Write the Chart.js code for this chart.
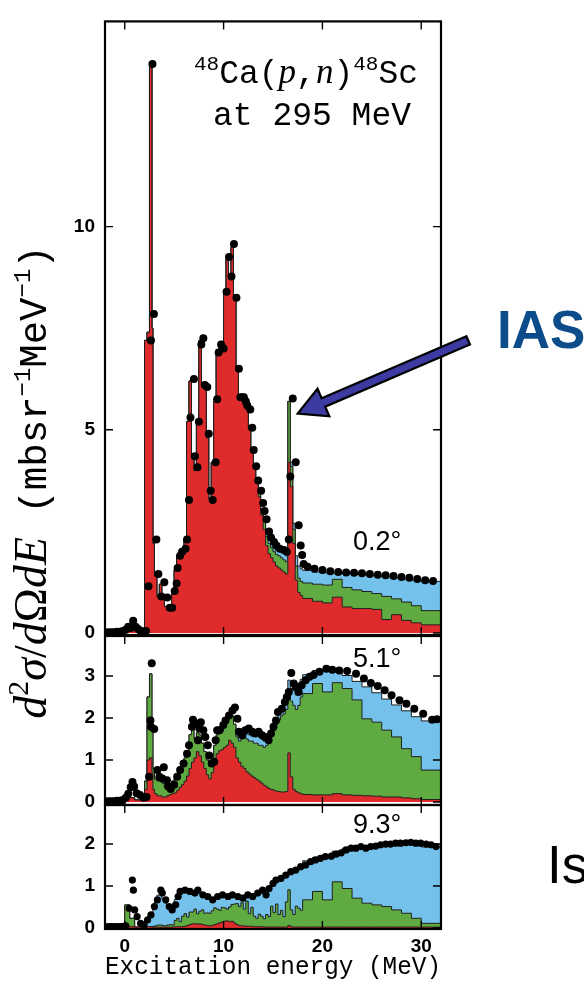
<!DOCTYPE html>
<html>
<head>
<meta charset="utf-8">
<script src="https://cdn.jsdelivr.net/npm/chart.js@4.4.1/dist/chart.umd.min.js"></script>
<style>
  html, body { margin: 0; padding: 0; background: #fff; }
  #wrap { position: relative; width: 584px; height: 993px; overflow: hidden; }
  #wrap canvas { position: absolute; left: 0; top: 0; }
</style>
</head>
<body>
<div id="wrap">
  <canvas id="p3" width="584" height="993"></canvas>
  <canvas id="p2" width="584" height="993"></canvas>
  <canvas id="p1" width="584" height="993"></canvas>
</div>
<script>
/* ── Data ─────────────────────────────────────────────── */

// left edges of the histogram bins (MeV), last entry closes the last bin
var binEdges = [
  -2, -1.5, -1, -0.5, 0, 0.5, 1, 1.5, 2, 2.25, 2.5, 2.75, 2.85,
  3, 3.25, 3.5, 3.75, 4, 4.25, 4.5, 4.75, 5, 5.25, 5.5, 5.75,
  6, 6.25, 6.5, 6.75, 7, 7.25, 7.5, 7.75, 8, 8.25, 8.5, 8.75,
  9, 9.25, 9.5, 9.75, 10, 10.25, 10.5, 10.75, 11, 11.25, 11.5, 11.75,
  12, 12.25, 12.5, 12.75, 13, 13.25, 13.5, 13.75, 14, 14.25, 14.5, 14.75,
  15, 15.25, 15.5, 15.75, 16, 16.25, 16.5, 16.75, 17, 17.25, 17.5, 17.75,
  18, 19, 20, 21, 22, 23, 24, 25, 26, 27, 28, 29, 30, 31,
  32
];

/* 0.2 deg */
var red1 = [
  0.02, 0.02, 0.02, 0.03, 0.05, 0.15, 0.12, 0.05, 0.1, 7.2, 7.4, 14.0, 7.5,
  2.2, 1.4, 0.9, 1.2, 0.85, 0.65, 0.6, 0.65, 1.05, 1.55, 1.9, 2.0,
  2.05, 2.3, 5.2, 6.2, 4.3, 4.0, 5.2, 7.2, 6.1, 6.0, 4.8, 3.3,
  4.2, 5.7, 6.9, 7.1, 7.0, 8.4, 9.2, 8.8, 9.5, 8.2, 6.5, 5.8,
  5.8, 5.6, 5.5, 5.0, 4.45, 4.1, 3.7, 3.35, 2.9, 2.55, 2.15, 1.95,
  1.85, 1.75, 1.65, 1.6, 1.55, 1.5, 1.45, 4.2, 3.6, 2.2, 1.3, 1.0,
  0.92, 0.85, 0.78, 0.74, 0.88, 0.64, 0.6, 0.6, 0.58, 0.33, 0.45, 0.31, 0.25, 0.2
];
var green1 = [
  0, 0, 0, 0, 0, 0, 0, 0, 0, 0, 0, 0, 0,
  0, 0, 0, 0, 0, 0, 0, 0, 0, 0, 0, 0,
  0, 0, 0, 0, 0, 0, 0, 0, 0, 0, 0, 0,
  0, 0, 0, 0, 0, 0, 0, 0, 0, 0, 0, 0,
  0, 0, 0, 0, 0, 0, 0.05, 0.1, 0.15, 0.2, 0.22, 0.25,
  0.25, 0.25, 0.28, 0.3, 0.3, 0.3, 0.3, 1.5, 0.5, 0.35, 0.35, 0.35,
  0.35, 0.38, 0.42, 0.44, 0.44, 0.48, 0.46, 0.42, 0.39, 0.57, 0.39, 0.45, 0.42, 0.35
];
var blue1 = [
  0, 0, 0, 0, 0, 0, 0, 0, 0, 0, 0, 0, 0,
  0, 0, 0, 0, 0, 0, 0, 0, 0, 0, 0, 0,
  0, 0, 0, 0, 0, 0, 0, 0, 0, 0, 0, 0,
  0, 0, 0, 0, 0, 0, 0, 0, 0, 0, 0, 0,
  0, 0, 0, 0, 0, 0, 0, 0, 0, 0.03, 0.05, 0.08,
  0.1, 0.1, 0.1, 0.12, 0.15, 0.15, 0.15, 0, 0.1, 0.15, 0.25, 0.3,
  0.31, 0.31, 0.3, 0.3, 0.15, 0.34, 0.38, 0.41, 0.44, 0.48, 0.52, 0.57, 0.63, 0.72
];
var dots1 = [
  [-1.7, 0.02], [-1.4, 0.02], [-1.1, 0.02], [-0.8, 0.03], [-0.5, 0.03], [-0.2, 0.05],
  [0.1, 0.08], [0.35, 0.15], [0.6, 0.12], [0.85, 0.3], [1.1, 0.15], [1.35, 0.1],
  [1.6, 0.05], [1.9, 0.04], [2.15, 0.05], [2.4, 1.15], [2.65, 7.2], [2.8, 14.0],
  [2.95, 7.85], [3.2, 2.3], [3.4, 1.45], [3.7, 0.9], [4.0, 1.25], [4.3, 0.87],
  [4.55, 0.62], [4.8, 0.62], [5.05, 1.03], [5.25, 1.22], [5.35, 1.6], [5.6, 1.9],
  [5.8, 2.0], [6.15, 2.07], [6.3, 2.3], [6.5, 3.27], [6.65, 5.3], [7.0, 6.25],
  [7.1, 4.35], [7.35, 4.08], [7.5, 5.2], [7.75, 7.1], [7.95, 7.25], [8.1, 6.1],
  [8.35, 6.05], [8.5, 4.9], [8.7, 3.5], [8.9, 3.27], [9.2, 4.2], [9.35, 5.75],
  [9.5, 6.9], [9.75, 7.1], [10.0, 7.0], [10.3, 8.4], [10.55, 9.25], [10.8, 8.77],
  [11.05, 9.57], [11.3, 8.25], [11.55, 6.5], [11.7, 5.8], [11.9, 5.8], [12.05, 5.8],
  [12.25, 5.7], [12.4, 5.6], [12.7, 5.5], [12.9, 5.05], [13.05, 4.5], [13.3, 4.1],
  [13.5, 3.75], [13.8, 3.5], [14.0, 3.2], [14.15, 3.0], [14.35, 2.8], [14.6, 2.5],
  [14.8, 2.35], [15.1, 2.24], [15.35, 2.15], [15.7, 2.07], [16.1, 2.04], [16.4, 2.0],
  [16.6, 2.3], [16.75, 3.85], [17.0, 5.77], [17.3, 4.2], [17.6, 2.65], [17.8, 2.15],
  [17.95, 1.92], [18.1, 1.7], [18.5, 1.63], [19.2, 1.58], [20.0, 1.55], [20.8, 1.52],
  [21.6, 1.5], [22.4, 1.49], [23.2, 1.48], [24.0, 1.47], [24.8, 1.45], [25.6, 1.43],
  [26.4, 1.42], [27.2, 1.4], [28.0, 1.38], [28.8, 1.36], [29.6, 1.33], [30.4, 1.3],
  [31.2, 1.28]
];

/* 5.1 deg */
var red2 = [
  0.02, 0.02, 0.02, 0.03, 0.05, 0.12, 0.1, 0.05, 0.05, 0.3, 1.0, 1.05, 0.7,
  0.3, 0.2, 0.15, 0.15, 0.12, 0.12, 0.15, 0.18, 0.2, 0.22, 0.28, 0.35,
  0.42, 0.5, 0.62, 0.8, 0.95, 1.05, 1.2, 1.1, 0.95, 0.8, 0.65, 0.55,
  0.7, 0.95, 1.15, 1.22, 1.25, 1.3, 1.35, 1.47, 1.4, 1.3, 1.05, 0.95,
  0.85, 0.8, 0.72, 0.67, 0.62, 0.58, 0.54, 0.5, 0.45, 0.4, 0.36, 0.32,
  0.3, 0.28, 0.26, 0.25, 0.24, 0.24, 0.25, 1.17, 0.6, 0.3, 0.25, 0.22,
  0.2, 0.18, 0.17, 0.17, 0.2, 0.17, 0.16, 0.15, 0.14, 0.12, 0.12, 0.1, 0.08, 0.06
];
var green2 = [
  0, 0, 0, 0, 0, 0, 0, 0, 0, 0.2, 1.5, 2.0, 1.0,
  0.5, 0.35, 0.35, 0.4, 0.33, 0.23, 0.15, 0.17, 0.3, 0.33, 0.37, 0.45,
  0.48, 0.55, 0.58, 0.8, 0.8, 0.45, 0.45, 0.5, 0.45, 0.4, 0.35, 0.3,
  0.2, 0.4, 0.45, 0.43, 0.45, 0.5, 0.55, 0.53, 0.65, 0.55, 0.5, 0.5,
  0.65, 0.75, 0.78, 0.78, 0.83, 0.82, 0.86, 0.85, 0.9, 0.9, 0.99, 1.13,
  1.25, 1.42, 1.59, 1.7, 1.81, 1.86, 1.95, 1.43, 1.8, 2.0, 1.95, 2.08,
  2.3, 2.4, 2.65, 2.45, 2.64, 2.53, 2.27, 1.83, 1.76, 1.59, 1.43, 1.17, 1.0, 0.7
];
var blue2 = [
  0, 0, 0, 0, 0, 0, 0, 0, 0, 0, 0, 0, 0,
  0, 0, 0, 0, 0, 0, 0, 0, 0, 0, 0, 0,
  0, 0, 0, 0, 0, 0, 0, 0, 0, 0, 0, 0,
  0, 0, 0, 0, 0, 0, 0, 0, 0, 0, 0.05, 0.08,
  0.1, 0.1, 0.12, 0.15, 0.12, 0.18, 0.2, 0.2, 0.15, 0.15, 0.15, 0.12,
  0.2, 0.15, 0.15, 0.15, 0.15, 0.2, 0.25, 0.3, 0.3, 0.35, 0.35, 0.35,
  0.42, 0.45, 0.31, 0.49, 0.25, 0.31, 0.44, 0.76, 0.7, 0.74, 0.76, 0.9, 0.95, 1.17
];
var dots2 = [
  [-1.7, 0.02], [-1.4, 0.02], [-1.1, 0.02], [-0.8, 0.03], [-0.5, 0.03], [-0.2, 0.05],
  [0.1, 0.1], [0.35, 0.2], [0.6, 0.35], [0.78, 0.48], [0.95, 0.37], [1.2, 0.21],
  [1.55, 0.17], [1.9, 0.1], [2.2, 0.12], [2.45, 0.6], [2.6, 1.94], [2.65, 1.79],
  [2.73, 3.3], [2.98, 1.74], [3.3, 0.76], [3.5, 0.6], [3.8, 0.56], [3.95, 0.83],
  [4.27, 0.52], [4.4, 0.37], [4.65, 0.31], [5.0, 0.41], [5.3, 0.6], [5.6, 0.76],
  [5.95, 0.92], [6.3, 1.15], [6.5, 1.35], [6.8, 1.79], [6.9, 1.96], [7.2, 1.87],
  [7.4, 1.47], [7.55, 1.75], [7.7, 1.9], [7.95, 1.71], [8.15, 1.55], [8.4, 1.35],
  [8.55, 1.11], [8.8, 0.92], [9.05, 0.96], [9.2, 1.47], [9.35, 1.71], [9.6, 1.71],
  [9.97, 1.83], [10.2, 1.94], [10.55, 2.06], [10.9, 2.18], [11.15, 2.25], [11.4, 1.98],
  [11.55, 1.67], [11.9, 1.59], [12.2, 1.71], [12.55, 1.75], [12.9, 1.67], [13.2, 1.63],
  [13.55, 1.67], [13.9, 1.59], [14.2, 1.55], [14.55, 1.47], [14.8, 1.63], [15.05, 1.79],
  [15.3, 1.94], [15.5, 2.14], [15.9, 2.22], [16.2, 2.38], [16.4, 2.5], [16.6, 2.62],
  [16.85, 3.07], [17.1, 2.82], [17.3, 2.74], [17.6, 2.62], [17.9, 2.78], [18.3, 2.9],
  [18.7, 2.98], [19.1, 3.02], [19.7, 3.1], [20.4, 3.17], [21.0, 3.15], [21.7, 3.13],
  [22.5, 3.12], [23.4, 3.05], [24.2, 2.94], [24.9, 2.83], [25.6, 2.76], [26.3, 2.66],
  [27.0, 2.54], [27.8, 2.42], [28.5, 2.34], [29.3, 2.22], [30.2, 2.1], [31.1, 1.96],
  [31.6, 1.97]
];

/* 9.3 deg */
var red3 = [
  0.02, 0.02, 0.02, 0.02, 0.03, 0.05, 0.03, 0.02, 0.02, 0.02, 0.03, 0.03, 0.02,
  0.02, 0.02, 0.02, 0.02, 0.02, 0.02, 0.02, 0.02, 0.02, 0.03, 0.03, 0.03,
  0.03, 0.04, 0.06, 0.08, 0.1, 0.1, 0.09, 0.1, 0.08, 0.07, 0.06, 0.05,
  0.06, 0.08, 0.1, 0.12, 0.14, 0.16, 0.17, 0.15, 0.16, 0.12, 0.08, 0.06,
  0.05, 0.05, 0.04, 0.04, 0.04, 0.03, 0.03, 0.03, 0.03, 0.02, 0.02, 0.02,
  0.02, 0.02, 0.02, 0.02, 0.02, 0.02, 0.02, 0.06, 0.03, 0.02, 0.02, 0.02,
  0.02, 0.02, 0.02, 0.02, 0.02, 0.02, 0.02, 0.02, 0.02, 0.02, 0.02, 0.02, 0.02, 0.02
];
var green3 = [
  0, 0, 0, 0, 0, 0.5, 0.2, 0, 0, 0, 0, 0, 0,
  0.02, 0.03, 0.05, 0.05, 0.04, 0.03, 0.05, 0.06, 0.05, 0.15, 0.2, 0.12,
  0.25, 0.3, 0.2, 0.3, 0.28, 0.35, 0.25, 0.3, 0.35, 0.28, 0.3, 0.3,
  0.35, 0.4, 0.35, 0.3, 0.35, 0.32, 0.28, 0.35, 0.4, 0.45, 0.5, 0.45,
  0.55, 0.4, 0.6, 0.3, 0.45, 0.25, 0.2, 0.3, 0.25, 0.2, 0.3, 0.25,
  0.5, 0.35, 0.55, 0.3, 0.4, 0.25, 0.6, 0.85, 0.4, 0.3, 0.5, 0.45,
  0.4, 0.65, 0.85, 0.65, 1.08, 0.92, 0.69, 0.57, 0.53, 0.49, 0.41, 0.33, 0.21, 0.09
];
var blue3 = [
  0, 0, 0, 0, 0, 0, 0, 0, 0.1, 0.17, 0.25, 0.3, 0.35,
  0.46, 0.57, 0.71, 0.78, 0.64, 0.55, 0.41, 0.34, 0.43, 0.5, 0.57, 0.7,
  0.6, 0.56, 0.64, 0.49, 0.47, 0.38, 0.54, 0.45, 0.36, 0.41, 0.39, 0.35,
  0.27, 0.24, 0.3, 0.36, 0.29, 0.28, 0.31, 0.28, 0.22, 0.19, 0.17, 0.22,
  0.12, 0.33, 0.14, 0.42, 0.29, 0.54, 0.63, 0.57, 0.57, 0.6, 0.58, 0.73,
  0.54, 0.75, 0.58, 0.86, 0.8, 0.98, 0.68, 0.42, 0.93, 1.06, 0.9, 0.98,
  1.08, 0.93, 0.81, 1.07, 0.73, 0.96, 1.21, 1.36, 1.43, 1.49, 1.58, 1.65, 1.75, 1.82
];
var dots3 = [
  [-1.7, 0.03], [-1.4, 0.03], [-1.1, 0.03], [-0.8, 0.03], [-0.5, 0.03], [-0.2, 0.04],
  [0.1, 0.05], [0.44, 0.47], [0.77, 1.14], [0.87, 0.9], [1.0, 0.43], [1.25, 0.27],
  [1.6, 0.11], [1.95, 0.07], [2.3, 0.19], [2.65, 0.31], [3.0, 0.51], [3.3, 0.67],
  [3.65, 0.9], [3.8, 0.83], [4.15, 0.67], [4.5, 0.51], [4.8, 0.43], [5.15, 0.55],
  [5.4, 0.75], [5.6, 0.87], [6.1, 0.9], [6.6, 0.87], [7.1, 0.83], [7.4, 0.9],
  [7.9, 0.79], [8.4, 0.75], [8.9, 0.67], [9.4, 0.75], [9.9, 0.79], [10.45, 0.75],
  [10.9, 0.79], [11.45, 0.75], [11.95, 0.71], [12.45, 0.79], [12.95, 0.75], [13.45, 0.83],
  [13.95, 0.9], [14.3, 0.79], [14.6, 0.94], [15.0, 1.06], [15.3, 1.14], [15.8, 1.18],
  [16.3, 1.26], [16.8, 1.34], [17.3, 1.38], [17.8, 1.46], [18.3, 1.5], [18.8, 1.58],
  [19.3, 1.62], [19.8, 1.66], [20.3, 1.7], [20.9, 1.71], [21.4, 1.76], [21.9, 1.79],
  [22.4, 1.86], [22.9, 1.9], [23.4, 1.9], [23.9, 1.94], [24.4, 1.9], [24.9, 1.94],
  [25.4, 1.95], [25.9, 1.98], [26.4, 2.0], [26.9, 2.0], [27.4, 2.02], [27.9, 2.02],
  [28.45, 2.03], [28.95, 2.04], [29.45, 2.02], [29.95, 2.02], [30.5, 2.0], [31.0, 1.98],
  [31.5, 1.94]
];

var xLabels  = [0, 10, 20, 30];
var yLabels1 = [0, 5, 10];
var yLabels2 = [0, 1, 2, 3];
var yLabels3 = [0, 1, 2];

/* ── Style ────────────────────────────────────────────── */

var RED = '#df2b2b', GREEN = '#5fab41', BLUE = '#74c2eb', EDGE = '#1e1e1e';
var TICK_FONT = { family: 'Liberation Sans', size: 19, weight: 'bold' };
Chart.defaults.font.family = 'Liberation Sans';
Chart.defaults.color = '#000';

/* ── Helpers ──────────────────────────────────────────── */

function steps(values) {
  var pts = values.map(function (v, i) { return { x: binEdges[i], y: v }; });
  pts.push({ x: binEdges[binEdges.length - 1], y: values[values.length - 1] });
  return pts;
}

function histo(values, color, fill) {
  return {
    data: steps(values), stepped: 'after', stack: 'model',
    borderColor: EDGE, borderWidth: 1, backgroundColor: color,
    fill: fill, pointRadius: 0
  };
}

function onStep(v, step) {
  var r = v / step;
  return Math.abs(r - Math.round(r)) < 1e-6;
}

function pickLabel(list) {
  return function (v) {
    for (var i = 0; i < list.length; i++) {
      if (Math.abs(v - list[i]) < 1e-6) return String(list[i]);
    }
    return null;
  };
}

/* frame box with inward ticks on all four sides, plus angle label */
var framePlugin = {
  id: 'frame',
  afterDatasetsDraw: function (chart, args, o) {
    var ctx = chart.ctx, a = chart.chartArea;
    var xs = chart.scales.x, ys = chart.scales.y;
    ctx.save();
    ctx.strokeStyle = '#000';
    ctx.lineWidth = 1.4;
    ctx.beginPath();
    xs.ticks.forEach(function (t) {
      if (!onStep(t.value, o.xMinor)) return;
      var len = onStep(t.value, o.xMajor) ? 8 : 4;
      var px = xs.getPixelForValue(t.value);
      ctx.moveTo(px, a.bottom); ctx.lineTo(px, a.bottom - len);
      ctx.moveTo(px, a.top);    ctx.lineTo(px, a.top + len);
    });
    ys.ticks.forEach(function (t) {
      if (!onStep(t.value, o.yMinor)) return;
      var len = onStep(t.value, o.yMajor) ? 8 : 4;
      var py = ys.getPixelForValue(t.value);
      ctx.moveTo(a.left, py);  ctx.lineTo(a.left + len, py);
      ctx.moveTo(a.right, py); ctx.lineTo(a.right - len, py);
    });
    ctx.stroke();
    ctx.lineWidth = 2.2;
    ctx.strokeRect(a.left, a.top, a.right - a.left, a.bottom - a.top);

    ctx.fillStyle = '#000';
    ctx.font = '27px Liberation Sans';
    ctx.textBaseline = 'alphabetic';
    ctx.fillText(o.label, o.labelX, o.labelY);
    ctx.restore();
  }
};

function drawRich(ctx, parts, x, y, align) {
  var w = 0;
  parts.forEach(function (p) { ctx.font = p[1]; w += ctx.measureText(p[0]).width; });
  var cx = align === 'right' ? x - w : (align === 'center' ? x - w / 2 : x);
  parts.forEach(function (p) {
    ctx.font = p[1];
    ctx.fillText(p[0], cx, y - (p[2] || 0));
    cx += ctx.measureText(p[0]).width;
  });
}

function drawArrow(ctx, x0, y0, x1, y1) {
  var dx = x1 - x0, dy = y1 - y0, len = Math.sqrt(dx * dx + dy * dy);
  var ux = dx / len, uy = dy / len, nx = -uy, ny = ux;
  var shaft = 4.5, head = 15, headLen = 28;
  var bx = x1 - ux * headLen, by = y1 - uy * headLen;
  ctx.beginPath();
  ctx.moveTo(x0 + nx * shaft, y0 + ny * shaft);
  ctx.lineTo(bx + nx * shaft, by + ny * shaft);
  ctx.lineTo(bx + nx * head, by + ny * head);
  ctx.lineTo(x1, y1);
  ctx.lineTo(bx - nx * head, by - ny * head);
  ctx.lineTo(bx - nx * shaft, by - ny * shaft);
  ctx.lineTo(x0 - nx * shaft, y0 - ny * shaft);
  ctx.closePath();
  ctx.fillStyle = '#3b3ba2';
  ctx.fill();
  ctx.lineWidth = 2.2;
  ctx.strokeStyle = '#000';
  ctx.stroke();
}

/* page texts: reaction title, y title, IAS arrow */
var notesPlugin = {
  id: 'notes',
  afterDraw: function (chart) {
    var ctx = chart.ctx, xs = chart.scales.x, ys = chart.scales.y;
    var MONO = 'px Liberation Mono', SER = 'px Liberation Serif';
    ctx.save();
    ctx.fillStyle = '#000';
    ctx.textBaseline = 'alphabetic';
    ctx.textAlign = 'left';

    drawRich(ctx, [
      ['48', '21' + MONO, 13], ['Ca(', '33' + MONO], ['p', 'italic 35' + SER],
      [',', '33' + MONO], ['n', 'italic 35' + SER], [')', '33' + MONO],
      ['48', '21' + MONO, 13], ['Sc', '33' + MONO]
    ], 418, 83, 'right');
    drawRich(ctx, [['at 295 MeV', '33' + MONO]], 411, 125, 'right');

    ctx.save();
    ctx.translate(46, 482);
    ctx.rotate(-Math.PI / 2);
    drawRich(ctx, [
      ['d', 'italic 46' + SER], ['2', '30' + SER, 18], ['σ', 'italic 46' + SER],
      ['/', '46' + SER], ['d', 'italic 46' + SER], ['Ω', '46' + SER],
      ['d', 'italic 46' + SER], ['E', 'italic 46' + SER],
      [' (mbsr', '39' + MONO], ['−1', '24' + MONO, 16], ['MeV', '39' + MONO],
      ['−1', '24' + MONO, 16], [')', '39' + MONO]
    ], 0, 0, 'center');
    ctx.restore();

    drawArrow(ctx, xs.getPixelForValue(34.75), ys.getPixelForValue(7.2),
                   xs.getPixelForValue(17.5), ys.getPixelForValue(5.4));

    ctx.fillStyle = '#0c4c8a';
    ctx.font = 'bold 53px Liberation Sans';
    ctx.fillText('IAS', 497, 348);

    ctx.fillStyle = '#000';
    ctx.font = '53px Liberation Sans';
    ctx.fillText('Is', 547, 883);
    ctx.restore();
  }
};

/* ── Panels ───────────────────────────────────────────── */

function makePanel(id, red, green, blue, dots, cfg) {
  return new Chart(document.getElementById(id), {
    type: 'line',
    data: {
      datasets: [
        {
          data: dots.map(function (d) { return { x: d[0], y: d[1] }; }),
          showLine: false, stack: 'obs', fill: false,
          pointRadius: cfg.dotRadius, pointBackgroundColor: '#000',
          pointBorderColor: '#000', pointBorderWidth: 0
        },
        histo(red, RED, 'origin'),
        histo(green, GREEN, '-1'),
        histo(blue, BLUE, '-1')
      ]
    },
    options: {
      responsive: false,
      animation: false,
      devicePixelRatio: 1,
      events: [],
      layout: { padding: { top: cfg.padTop, bottom: cfg.padBottom, left: 0, right: 143 } },
      plugins: {
        legend: { display: false },
        tooltip: { enabled: false },
        frame: {
          xMinor: 2, xMajor: 10, yMinor: cfg.yMinor, yMajor: cfg.yMajor,
          label: cfg.label, labelX: 353, labelY: cfg.labelY
        }
      },
      scales: {
        x: {
          type: 'linear', min: -2, max: 32,
          grid: { display: false, drawTicks: false },
          border: { display: false },
          ticks: {
            display: cfg.showX, stepSize: 2, autoSkip: false, maxRotation: 0,
            padding: 6, font: TICK_FONT, color: '#000',
            callback: pickLabel(xLabels)
          },
          title: {
            display: cfg.showX, text: 'Excitation energy (MeV)', color: '#000',
            font: { family: 'Liberation Mono', size: 25 },
            padding: { top: 0, bottom: 11 }
          },
          afterFit: function (s) { s.height = cfg.xHeight; }
        },
        y: {
          type: 'linear', stacked: true, min: cfg.yMin, max: cfg.yMax,
          grid: { display: false, drawTicks: false },
          border: { display: false },
          ticks: {
            stepSize: cfg.yMinor, autoSkip: false, includeBounds: false, padding: 10,
            font: TICK_FONT, color: '#000',
            callback: pickLabel(cfg.yLabels)
          },
          afterFit: function (s) { s.width = 105; }
        }
      }
    },
    plugins: cfg.notes ? [framePlugin, notesPlugin] : [framePlugin]
  });
}

makePanel('p3', red3, green3, blue3, dots3, {
  padTop: 805, padBottom: 0, xHeight: 64, showX: true,
  yMin: -0.025, yMax: 2.93, yMinor: 0.2, yMajor: 1, yLabels: yLabels3,
  label: '9.3°', labelY: 833, dotRadius: 3.6
});
makePanel('p2', red2, green2, blue2, dots2, {
  padTop: 636, padBottom: 188, xHeight: 0, showX: false,
  yMin: -0.07, yMax: 3.95, yMinor: 0.2, yMajor: 1, yLabels: yLabels2,
  label: '5.1°', labelY: 667, dotRadius: 4
});
makePanel('p1', red1, green1, blue1, dots1, {
  padTop: 7, padBottom: 358, xHeight: 0, showX: false,
  yMin: -0.05, yMax: 15.05, yMinor: 1, yMajor: 5, yLabels: yLabels1,
  label: '0.2°', labelY: 550, dotRadius: 4, notes: true
});
</script>
</body>
</html>
